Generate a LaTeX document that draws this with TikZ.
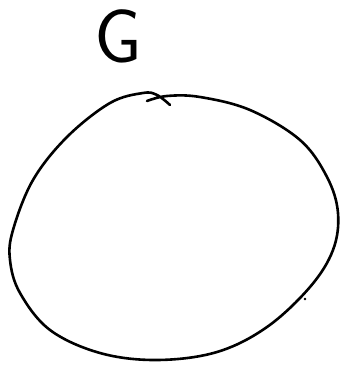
\documentclass[tikz,border=0pt]{standalone}
\begin{document}
\begin{tikzpicture}[x=1pt,y=-1pt,
  hand/.style={line width=2.6pt, line cap=round, line join=round, black},
  glabel/.style={font=\sffamily\fontsize{76}{76}\selectfont, inner sep=0pt, anchor=center}]
\useasboundingbox (0,0) rectangle (341,366);
\node[glabel] (g) at (118,36) {G};
\draw[hand] plot[smooth, tension=0.6] coordinates {
  (170,105) (157,95) (143,93) (110,103) (67,137) (33,180) (13,230) (10,260)
  (20,293) (50,330) (100,353) (157,360) (217,352) (267,327) (310,287)
  (333,250) (338,213) (327,177) (300,140) (250,110) (200,97) (167,96) (147,101)};
\fill (305,299) circle (1.4pt);
\end{tikzpicture}
\end{document}
